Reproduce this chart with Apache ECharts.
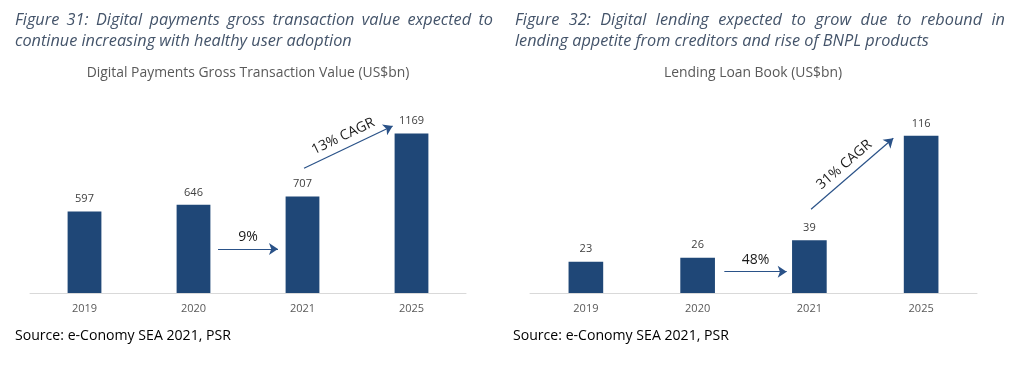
<!DOCTYPE html>
<html>
<head>
<meta charset="utf-8">
<script src="https://cdn.jsdelivr.net/npm/echarts@6/dist/echarts.min.js"></script>
<style>
html,body{margin:0;padding:0;background:#fff;}
#c{width:1029px;height:387px;}
</style>
</head>
<body>
<div id="c"></div>
<script>
// ---- data ----
const years = ['2019', '2020', '2021', '2025'];
const paymentsGTV = [597, 646, 707, 1169];
const lendingBook = [23, 26, 39, 116];
// annotation arrows: [xIndexStart, yStart, xIndexEnd, yEnd, label]
const paymentsArrows = [
  [1.225, 323, 1.775, 323, '9%'],
  [2.014, 914, 2.827, 1224, '13% CAGR']
];
const lendingArrows = [
  [1.239, 15.7, 1.797, 15.7, '48%'],
  [2.015, 61.8, 2.751, 114.2, '31% CAGR']
];
const captions = [
  ['Figure 31: Digital payments gross transaction value expected to', 'continue increasing with healthy user adoption'],
  ['Figure 32: Digital lending expected to grow due to rebound in', 'lending appetite from creditors and rise of BNPL products']
];
const chartTitles = ['Digital Payments Gross Transaction Value (US$bn)', 'Lending Loan Book (US$bn)'];
const sourceText = 'Source: e-Conomy SEA 2021, PSR';

// ---- styles ----
const BAR = '#1f4777';
const ARROW = '#2a5288';
const FONT = '"Open Sans", "Noto Sans", sans-serif';
const CAP_SIZE = 16.3;
const CAP_COLOR = '#44546a';

const chart = echarts.init(document.getElementById('c'), null, {renderer: 'canvas'});

function catAxis(gi) {
  return {
    type: 'category', gridIndex: gi, data: years,
    axisLine: {lineStyle: {color: '#d9d9d9', width: 1}},
    axisTick: {show: false},
    axisLabel: {color: '#595959', fontSize: 11, fontFamily: FONT, margin: 10}
  };
}
function valXAxis(gi) {
  return {type: 'value', gridIndex: gi, min: -0.5, max: 3.5, show: false};
}
function yAxis(gi, max) {
  return {type: 'value', gridIndex: gi, min: 0, max: max, show: false, splitLine: {show: false}};
}
function barSeries(gi, data) {
  return {
    type: 'bar', xAxisIndex: gi * 2, yAxisIndex: gi, data: data,
    barWidth: '31%',
    itemStyle: {color: BAR},
    label: {show: true, position: 'top', distance: 7, color: '#404040', fontSize: 11, fontFamily: FONT},
    silent: true
  };
}
function arrowSeries(gi, arrows) {
  return {
    type: 'lines', coordinateSystem: 'cartesian2d', xAxisIndex: gi * 2 + 1, yAxisIndex: gi,
    symbol: ['none', 'arrow'], symbolSize: 9,
    lineStyle: {color: ARROW, width: 1.2, opacity: 1, curveness: 0},
    label: {show: true, position: 'insideMiddleTop', distance: 5, color: '#1a1a1a', fontSize: 14, fontFamily: FONT,
      formatter: p => p.data.name},
    data: arrows.map(a => ({name: a[4], coords: [[a[0], a[1]], [a[2], a[3]]]})),
    silent: true, z: 5
  };
}

// justified caption line: place words so the line fills the given width
const mctx = document.createElement('canvas').getContext('2d');
const capFont = 'italic ' + CAP_SIZE + 'px "Open Sans"';
function justifiedLine(text, x0, width, y) {
  mctx.font = capFont;
  const words = text.split(' ');
  const widths = words.map(w => mctx.measureText(w).width);
  const total = widths.reduce((a, b) => a + b, 0);
  const gap = (width - total) / (words.length - 1);
  let x = x0;
  return words.map((w, i) => {
    const el = {type: 'text', left: null, x: x, y: y,
      style: {text: w, fill: CAP_COLOR, font: capFont, textVerticalAlign: 'middle'}, silent: true};
    x += widths[i] + gap;
    return el;
  });
}
function plainLine(text, x0, y) {
  return {type: 'text', x: x0, y: y,
    style: {text: text, fill: CAP_COLOR, font: capFont, textVerticalAlign: 'middle'}, silent: true};
}

const titleStyle = {color: '#595959', fontSize: 13.9, fontFamily: FONT, fontWeight: 'normal'};
const srcStyle = {color: '#000', fontSize: 14.1, fontFamily: FONT, fontWeight: 'normal'};

chart.setOption({
  animation: false,
  backgroundColor: '#fff',
  title: [
    {text: chartTitles[0], left: 248, top: 66, textAlign: 'center', textStyle: titleStyle, padding: 0},
    {text: chartTitles[1], left: 753, top: 66, textAlign: 'center', textStyle: titleStyle, padding: 0},
    {text: sourceText, left: 15, top: 329, textStyle: srcStyle, padding: 0},
    {text: sourceText, left: 513, top: 329, textStyle: srcStyle, padding: 0}
  ],
  graphic: [].concat(
    justifiedLine(captions[0][0], 15, 478, 20),
    [plainLine(captions[0][1], 15, 41)],
    justifiedLine(captions[1][0], 515, 490, 20),
    [plainLine(captions[1][1], 515, 41)]
  ),
  grid: [
    {left: 30, width: 436, top: 102, bottom: 94},
    {left: 530, width: 447, top: 102, bottom: 94}
  ],
  xAxis: [catAxis(0), valXAxis(0), catAxis(1), valXAxis(1)],
  yAxis: [yAxis(0, 1400), yAxis(1, 141)],
  series: [
    barSeries(0, paymentsGTV),
    arrowSeries(0, paymentsArrows),
    barSeries(1, lendingBook),
    arrowSeries(1, lendingArrows)
  ]
});
</script>
</body>
</html>
